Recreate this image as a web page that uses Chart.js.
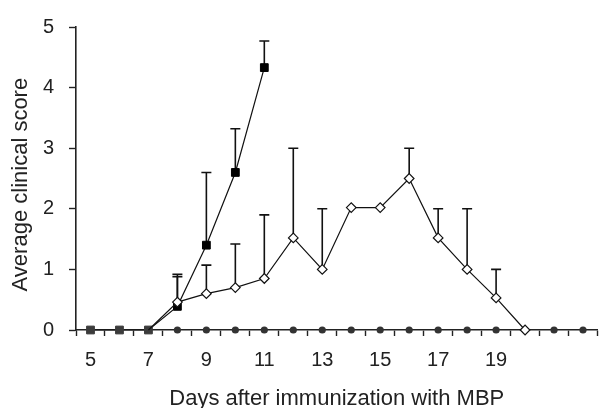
<!DOCTYPE html>
<html>
<head>
<meta charset="utf-8">
<script src="https://cdn.jsdelivr.net/npm/chart.js@4/dist/chart.umd.min.js"></script>
<style>
  html, body { margin: 0; padding: 0; background: #fff; }
  #wrap { width: 604px; height: 408px; position: relative; }
</style>
</head>
<body>
<div id="wrap"><canvas id="c" width="604" height="408"></canvas></div>
<script>
// ---- data ----
const days = [5, 6, 7, 8, 9, 10, 11, 12, 13, 14, 15, 16, 17, 18, 19, 20, 21, 22];
const xTickLabels = ['5', '', '7', '', '9', '', '11', '', '13', '', '15', '', '17', '', '19', '', '', ''];
const yTicks = [0, 1, 2, 3, 4, 5];

// filled squares group
const squareMeans = [0, 0, 0, 0.39, 1.4, 2.6, 4.33, null, null, null, null, null, null, null, null, null, null, null];
const squareErrTop = [null, null, null, 0.88, 2.6, 3.32, 4.77, null, null, null, null, null, null, null, null, null, null, null];

// open diamonds group
const diamondMeans = [null, null, 0, 0.46, 0.6, 0.7, 0.85, 1.52, 1.0, 2.02, 2.02, 2.5, 1.52, 1.0, 0.53, 0, null, null];
const diamondErrTop = [null, null, null, 0.92, 1.07, 1.42, 1.9, 3.0, 2.0, null, null, 3.0, 2.0, 2.0, 1.0, null, null, null];

// filled circles (control) group
const controlMeans = [null, null, null, 0, 0, 0, 0, 0, 0, 0, 0, 0, 0, 0, 0, 0, 0, 0];

const FONT = "'Liberation Sans', Arial, sans-serif";
const TEXT = '#222';

const errorBars = {
  id: 'errorBars',
  beforeDatasetsDraw(chart) {
    const ctx = chart.ctx;
    const y = chart.scales.y;
    ctx.save();
    ctx.strokeStyle = '#111';
    ctx.lineWidth = 1.6;
    chart.data.datasets.forEach((ds, di) => {
      if (!ds.errTop) return;
      const meta = chart.getDatasetMeta(di);
      ds.errTop.forEach((top, i) => {
        if (top == null || ds.data[i] == null) return;
        const el = meta.data[i];
        const px = el.x;
        const y0 = y.getPixelForValue(ds.data[i]);
        const y1 = y.getPixelForValue(top);
        ctx.beginPath();
        ctx.moveTo(px, y0);
        ctx.lineTo(px, y1);
        ctx.moveTo(px - 5, y1);
        ctx.lineTo(px + 5, y1);
        ctx.stroke();
      });
    });
    ctx.restore();
  }
};

new Chart(document.getElementById('c'), {
  type: 'line',
  data: {
    labels: days,
    datasets: [
      {
        label: 'open',
        data: diamondMeans,
        errTop: diamondErrTop,
        order: 0,
        clip: false,
        borderColor: '#111',
        borderWidth: 1.2,
        pointStyle: 'rectRot',
        pointRadius: (c) => (c.dataIndex < 3 ? 0 : 4.8),
        pointBackgroundColor: '#fff',
        pointBorderColor: '#111',
        pointBorderWidth: 1.2,
        tension: 0,
        spanGaps: false
      },
      {
        label: 'squares',
        data: squareMeans,
        errTop: squareErrTop,
        order: 1,
        clip: false,
        borderColor: '#111',
        borderWidth: 1.2,
        pointStyle: 'rect',
        pointRadius: 5.5,
        pointBackgroundColor: (c) => (c.dataIndex < 3 ? '#3c3c3c' : '#000'),
        pointBorderColor: (c) => (c.dataIndex < 3 ? '#3c3c3c' : '#000'),
        pointBorderWidth: 1,
        tension: 0
      },
      {
        label: 'control',
        data: controlMeans,
        order: 2,
        clip: false,
        borderColor: 'rgba(0,0,0,0)',
        borderWidth: 0,
        pointStyle: 'circle',
        pointRadius: 3.6,
        pointBackgroundColor: '#333',
        pointBorderColor: '#333',
        pointBorderWidth: 0,
        tension: 0
      }
    ]
  },
  options: {
    responsive: false,
    animation: false,
    events: [],
    layout: { padding: { top: 24, right: 0, left: 0, bottom: 0 } },
    plugins: { legend: { display: false }, tooltip: { enabled: false } },
    scales: {
      x: {
        type: 'category',
        offset: true,
        grid: { offset: true, drawOnChartArea: false, drawTicks: true, tickLength: 6, tickColor: '#222', tickWidth: 1.4 },
        border: { display: true, color: '#222', width: 1.6 },
        ticks: {
          autoSkip: false,
          maxRotation: 0,
          padding: 12,
          color: TEXT,
          font: { family: FONT, size: 20 },
          callback: (v, i) => xTickLabels[i]
        },
        title: {
          display: true,
          text: 'Days after immunization with MBP',
          color: TEXT,
          font: { family: FONT, size: 22, lineHeight: 0.8 },
          padding: { top: 0, bottom: 0 }
        },
        afterFit: (s) => { s.height = 78; }
      },
      y: {
        min: 0,
        max: 5,
        afterBuildTicks: (s) => { s.ticks = yTicks.map(v => ({ value: v })); },
        grid: { drawOnChartArea: false, drawTicks: true, tickLength: 7, tickColor: '#222', tickWidth: 1.4 },
        border: { display: true, color: '#222', width: 1.6 },
        ticks: {
          padding: 15,
          color: TEXT,
          font: { family: FONT, size: 20 }
        },
        title: {
          display: true,
          text: 'Average clinical score  ',
          color: TEXT,
          font: { family: FONT, size: 22, lineHeight: 0.8 },
          padding: { top: 12, bottom: 0 }
        },
        afterFit: (s) => { s.width = 76; }
      }
    }
  },
  plugins: [errorBars]
});
</script>
</body>
</html>
